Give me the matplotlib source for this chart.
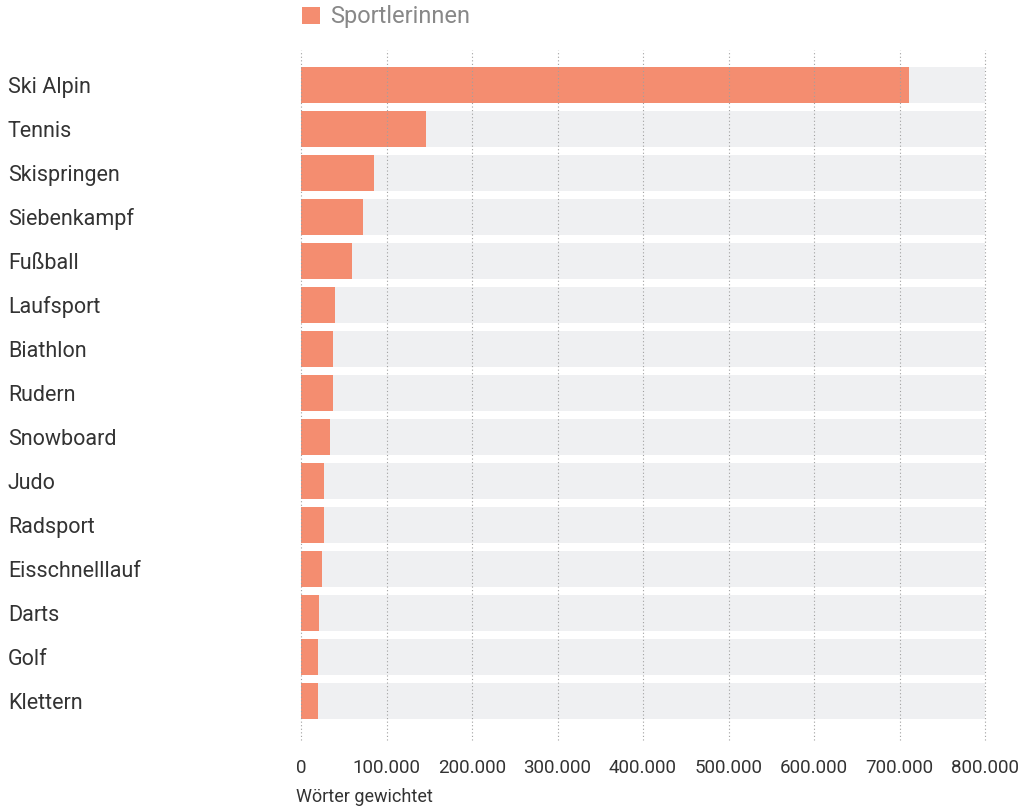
import matplotlib
matplotlib.use("Agg")
import matplotlib.pyplot as plt
import numpy as np

plt.rcParams["font.family"] = ["Roboto", "DejaVu Sans"]

# data
sports = ["Ski Alpin", "Tennis", "Skispringen", "Siebenkampf", "Fußball",
          "Laufsport", "Biathlon", "Rudern", "Snowboard", "Judo",
          "Radsport", "Eisschnelllauf", "Darts", "Golf", "Klettern"]
words = [711000, 146000, 85000, 72000, 60000,
         40000, 37500, 37500, 34000, 27000,
         27000, 24500, 21000, 20000, 20000]
x_max = 800000
x_ticks = [0, 100000, 200000, 300000, 400000, 500000, 600000, 700000, 800000]
x_tick_labels = ["0", "100.000", "200.000", "300.000", "400.000",
                 "500.000", "600.000", "700.000", "800.000"]
series_name = "Sportlerinnen"
x_title = "Wörter gewichtet"

BAR = "#f48d70"
BG = "#eff0f2"

W, H = 1024, 807
fig = plt.figure(figsize=(W / 100, H / 100), dpi=100)
ax = fig.add_axes([301 / W, 1 - 740 / H, (985 - 301) / W, (740 - 50) / H])

y = np.arange(len(sports))
ax.barh(y, [x_max] * len(sports), height=0.8, color=BG, zorder=1)
bars = ax.barh(y, words, height=0.8, color=BAR, zorder=2, label=series_name)

ax.set_xlim(0, x_max)
ax.set_ylim(14.886, -0.795)

# dotted vertical grid, drawn over the bars
for t in x_ticks:
    ax.axvline(t, color="#a0a0a0", linestyle=(0, (1, 2.2)), linewidth=0.8,
               zorder=3, clip_on=False)

ax.set_xticks(x_ticks)
ax.set_xticklabels(x_tick_labels, fontsize=13.5, color="#333333")
ax.tick_params(axis="x", length=0, pad=14)

ax.set_yticks(y)
ax.set_yticklabels(sports, fontsize=15.5, color="#333333")
ax.tick_params(axis="y", length=0, pad=(301 - 8) * 0.72)
for lab in ax.get_yticklabels():
    lab.set_ha("left")

for s in ax.spines.values():
    s.set_visible(False)

fig.text(296 / W, 1 - 797 / H, x_title, fontsize=13, color="#333333",
         ha="left", va="center")

leg = ax.legend(handles=[bars], loc="center left", frameon=False,
                bbox_to_anchor=(-0.012, 1 + 33 / 690),
                fontsize=17, handlelength=0.75, handleheight=0.75,
                handletextpad=0.45, borderaxespad=0)
for t in leg.get_texts():
    t.set_color("#888888")

fig.savefig("out.png", dpi=100)
